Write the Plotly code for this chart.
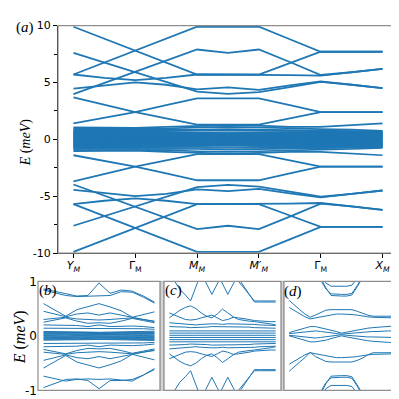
import plotly.graph_objects as go

BLUE = "#1f77b4"
FRAME = "#8e8e8e"
SERIF = "Liberation Serif"
SANS = "DejaVu Sans"

# k-path: Y_M, Gamma_M, M_M, M'_M, Gamma_M, X_M
K = [0, 0.5, 1, 1.5, 2, 2.5, 3, 3.5, 4, 4.5, 5]
K_FINE = [0, 0.25, 0.5, 0.75, 1, 1.25, 1.5, 1.75, 2, 2.25, 2.5,
          2.75, 3, 3.25, 3.5, 3.75, 4, 4.25, 4.5, 4.75, 5]
K_LABELS = ["<i>Y</i><sub><i>M</i></sub>", "Γ<sub>M</sub>", "<i>M</i><sub><i>M</i></sub>",
            "<i>M</i>′<sub><i>M</i></sub>", "Γ<sub>M</sub>", "<i>X</i><sub><i>M</i></sub>"]

# ---- panel (a): full spectrum, meV ----
A_OUTER = [
    [9.9, 8.85, 7.8, 6.75, 5.7, 5.7, 5.7, 6.7, 7.7, 7.7, 7.7],
    [5.7, 6.75, 7.8, 8.85, 9.9, 9.9, 9.9, 8.8, 7.7, 7.7, 7.7],
    [7.6, 6.75, 5.9, 5.05, 4.2, 4.0, 4.15, 4.6, 5.05, 4.8, 4.5],
    [3.97, 4.95, 5.9, 6.9, 7.9, 7.6, 7.9, 6.8, 5.66, 5.9, 6.2],
    [4.45, 4.75, 5.0, 4.8, 4.4, 4.56, 4.35, 4.75, 5.1, 4.8, 4.5],
    [5.7, 5.4, 5.2, 5.4, 5.7, 5.7, 5.7, 5.65, 5.6, 5.9, 6.2],
    [3.7, 3.05, 2.4, 1.85, 1.3, 1.3, 1.3, 1.85, 2.4, 2.4, 2.4],
    [1.4, 1.9, 2.4, 3.0, 3.6, 3.6, 3.6, 3.0, 2.4, 2.4, 2.4],
    [-9.9, -8.85, -7.8, -6.75, -5.7, -5.7, -5.7, -6.7, -7.7, -7.7, -7.7],
    [-5.7, -6.75, -7.8, -8.85, -9.9, -9.9, -9.9, -8.8, -7.7, -7.7, -7.7],
    [-7.6, -6.75, -5.9, -5.05, -4.2, -4.0, -4.15, -4.6, -5.05, -4.8, -4.5],
    [-3.97, -4.95, -5.9, -6.9, -7.9, -7.6, -7.9, -6.8, -5.66, -5.9, -6.2],
    [-4.45, -4.75, -5.0, -4.8, -4.4, -4.56, -4.35, -4.75, -5.1, -4.8, -4.5],
    [-5.7, -5.4, -5.2, -5.4, -5.7, -5.7, -5.7, -5.65, -5.6, -5.9, -6.2],
    [-3.7, -3.05, -2.4, -1.85, -1.3, -1.3, -1.3, -1.85, -2.4, -2.4, -2.4],
    [-1.4, -1.9, -2.4, -3.0, -3.6, -3.6, -3.6, -3.0, -2.4, -2.4, -2.4],
]
A_CENTER = [
    [1.05, 1.05, 1.0, 1.1, 1.2, 1.25, 1.2, 1.1, 1.1, 1.25, 1.4],
    [0.95, 0.95, 0.9, 0.95, 1.05, 1.1, 1.05, 0.95, 0.9, 0.85, 0.75],
    [0.85, 0.85, 0.82, 0.8, 0.85, 0.9, 0.85, 0.8, 0.78, 0.72, 0.68],
    [0.78, 0.77, 0.76, 0.74, 0.72, 0.7, 0.72, 0.74, 0.74, 0.7, 0.66],
    [0.72, 0.72, 0.7, 0.66, 0.6, 0.55, 0.6, 0.66, 0.68, 0.65, 0.6],
    [0.67, 0.66, 0.64, 0.6, 0.56, 0.52, 0.56, 0.6, 0.62, 0.6, 0.56],
    [0.62, 0.6, 0.58, 0.55, 0.5, 0.48, 0.5, 0.52, 0.56, 0.55, 0.52],
    [0.57, 0.55, 0.53, 0.5, 0.46, 0.44, 0.46, 0.48, 0.51, 0.5, 0.48],
    [0.52, 0.5, 0.48, 0.45, 0.42, 0.4, 0.42, 0.44, 0.46, 0.46, 0.45],
    [0.47, 0.45, 0.43, 0.4, 0.38, 0.36, 0.38, 0.4, 0.42, 0.42, 0.41],
    [0.42, 0.4, 0.38, 0.36, 0.33, 0.32, 0.33, 0.35, 0.37, 0.37, 0.37],
    [0.37, 0.35, 0.34, 0.32, 0.29, 0.28, 0.29, 0.31, 0.33, 0.33, 0.33],
    [0.32, 0.3, 0.29, 0.27, 0.25, 0.24, 0.25, 0.26, 0.28, 0.29, 0.3],
    [0.27, 0.26, 0.25, 0.23, 0.21, 0.2, 0.21, 0.22, 0.24, 0.25, 0.26],
    [0.22, 0.21, 0.2, 0.19, 0.17, 0.16, 0.17, 0.18, 0.19, 0.21, 0.22],
    [0.17, 0.16, 0.15, 0.15, 0.13, 0.12, 0.13, 0.14, 0.15, 0.16, 0.18],
    [0.12, 0.11, 0.1, 0.1, 0.09, 0.08, 0.09, 0.1, 0.1, 0.12, 0.14],
    [0.08, 0.07, 0.07, 0.06, 0.06, 0.05, 0.06, 0.06, 0.07, 0.08, 0.1],
    [0.04, 0.03, 0.03, 0.03, 0.02, 0.02, 0.02, 0.03, 0.03, 0.04, 0.06],
    [0.0, 0.0, 0.0, 0.0, 0.0, 0.0, 0.0, 0.0, 0.0, 0.0, 0.0],
    [-0.04, -0.03, -0.03, -0.03, -0.02, -0.02, -0.02, -0.03, -0.03, -0.04, -0.06],
    [-0.08, -0.07, -0.07, -0.06, -0.06, -0.05, -0.06, -0.06, -0.07, -0.08, -0.1],
    [-0.12, -0.11, -0.1, -0.1, -0.09, -0.08, -0.09, -0.1, -0.1, -0.12, -0.14],
    [-0.17, -0.16, -0.15, -0.15, -0.13, -0.12, -0.13, -0.14, -0.15, -0.16, -0.18],
    [-0.22, -0.21, -0.2, -0.19, -0.17, -0.16, -0.17, -0.18, -0.19, -0.21, -0.22],
    [-0.27, -0.26, -0.25, -0.23, -0.21, -0.2, -0.21, -0.22, -0.24, -0.25, -0.26],
    [-0.32, -0.3, -0.29, -0.27, -0.25, -0.24, -0.25, -0.26, -0.28, -0.29, -0.3],
    [-0.37, -0.35, -0.34, -0.32, -0.29, -0.28, -0.29, -0.31, -0.33, -0.33, -0.33],
    [-0.42, -0.4, -0.38, -0.36, -0.33, -0.32, -0.33, -0.35, -0.37, -0.37, -0.37],
    [-0.47, -0.45, -0.43, -0.4, -0.38, -0.36, -0.38, -0.4, -0.42, -0.42, -0.41],
    [-0.52, -0.5, -0.48, -0.45, -0.42, -0.4, -0.42, -0.44, -0.46, -0.46, -0.45],
    [-0.57, -0.55, -0.53, -0.5, -0.46, -0.44, -0.46, -0.48, -0.51, -0.5, -0.48],
    [-0.62, -0.6, -0.58, -0.55, -0.5, -0.48, -0.5, -0.52, -0.56, -0.55, -0.52],
    [-0.67, -0.66, -0.64, -0.6, -0.56, -0.52, -0.56, -0.6, -0.62, -0.6, -0.56],
    [-0.72, -0.72, -0.7, -0.66, -0.6, -0.55, -0.6, -0.66, -0.68, -0.65, -0.6],
    [-0.78, -0.77, -0.76, -0.74, -0.72, -0.7, -0.72, -0.74, -0.74, -0.7, -0.66],
    [-0.85, -0.85, -0.82, -0.8, -0.85, -0.9, -0.85, -0.8, -0.78, -0.72, -0.68],
    [-0.95, -0.95, -0.9, -0.95, -1.05, -1.1, -1.05, -0.95, -0.9, -0.85, -0.75],
    [-1.05, -1.05, -1.0, -1.1, -1.2, -1.25, -1.2, -1.1, -1.1, -1.25, -1.4],
]

# ---- panel (b) ----
B_BANDS = [
    [0.86, 0.82, 0.78, 0.73, 0.74, 0.97, 0.78, 0.84, 0.82, 0.73, 0.62],
    [0.84, 0.79, 0.74, 0.72, 0.73, 0.74, 0.74, 0.81, 0.8, 0.71, 0.6],
    [0.59, 0.47, 0.36, 0.48, 0.53, 0.59, 0.53, 0.46, 0.34, 0.39, 0.44],
    [0.45, 0.4, 0.35, 0.4, 0.42, 0.38, 0.42, 0.38, 0.34, 0.3, 0.26],
    [0.3, 0.32, 0.34, 0.31, 0.3, 0.29, 0.3, 0.31, 0.33, 0.3, 0.27],
    [0.25, 0.29, 0.33, 0.27, 0.23, 0.24, 0.23, 0.27, 0.32, 0.28, 0.24],
    [0.2, 0.2, 0.2, 0.19, 0.17, 0.2, 0.17, 0.18, 0.18, 0.17, 0.15],
    [0.14, 0.14, 0.13, 0.14, 0.14, 0.13, 0.14, 0.14, 0.13, 0.13, 0.12],
    [0.08, 0.08, 0.075, 0.08, 0.07, 0.065, 0.07, 0.075, 0.08, 0.08, 0.085],
    [0.065, 0.062, 0.06, 0.065, 0.058, 0.052, 0.058, 0.062, 0.066, 0.066, 0.07],
    [0.055, 0.05, 0.05, 0.055, 0.045, 0.04, 0.045, 0.05, 0.055, 0.055, 0.06],
    [0.04, 0.038, 0.036, 0.042, 0.032, 0.03, 0.032, 0.036, 0.042, 0.042, 0.045],
    [0.03, 0.028, 0.025, 0.03, 0.02, 0.02, 0.02, 0.025, 0.03, 0.03, 0.03],
    [0.015, 0.014, 0.012, 0.016, 0.01, 0.008, 0.01, 0.012, 0.016, 0.016, 0.015],
    [0.005, 0.0, 0.0, 0.005, 0.0, -0.005, 0.0, 0.0, 0.005, 0.005, 0.0],
    [-0.015, -0.014, -0.012, -0.016, -0.01, -0.008, -0.01, -0.012, -0.016, -0.016, -0.015],
    [-0.03, -0.028, -0.025, -0.03, -0.02, -0.02, -0.02, -0.025, -0.03, -0.03, -0.03],
    [-0.04, -0.038, -0.036, -0.042, -0.032, -0.03, -0.032, -0.036, -0.042, -0.042, -0.045],
    [-0.055, -0.05, -0.05, -0.055, -0.045, -0.04, -0.045, -0.05, -0.055, -0.055, -0.06],
    [-0.065, -0.062, -0.06, -0.065, -0.058, -0.052, -0.058, -0.062, -0.066, -0.066, -0.07],
    [-0.08, -0.08, -0.075, -0.08, -0.07, -0.065, -0.07, -0.075, -0.08, -0.08, -0.085],
    [-0.14, -0.14, -0.13, -0.14, -0.14, -0.13, -0.14, -0.14, -0.13, -0.13, -0.12],
    [-0.2, -0.2, -0.2, -0.19, -0.17, -0.2, -0.17, -0.18, -0.18, -0.17, -0.15],
    [-0.25, -0.29, -0.33, -0.27, -0.23, -0.24, -0.23, -0.27, -0.32, -0.28, -0.24],
    [-0.3, -0.32, -0.34, -0.31, -0.3, -0.29, -0.3, -0.31, -0.33, -0.3, -0.27],
    [-0.45, -0.4, -0.35, -0.4, -0.42, -0.38, -0.42, -0.38, -0.34, -0.3, -0.26],
    [-0.59, -0.47, -0.36, -0.48, -0.53, -0.59, -0.53, -0.46, -0.34, -0.39, -0.44],
    [-0.74, -0.78, -0.83, -0.8, -0.79, -0.8, -0.79, -0.81, -0.83, -0.72, -0.6],
    [-0.95, -0.88, -0.8, -0.79, -0.82, -0.97, -0.82, -0.82, -0.8, -0.72, -0.62],
]

# ---- panel (c) ----
C_BANDS = [
    [1.15, 1.0, 0.85, 0.75, 0.64, 0.9, 1.15, 1.3, 1.3, 1.3, 1.3, 1.3, 1.3, 1.3, 1.3, 1.3, 1.3, 1.3, 1.3, 1.3, 1.3],
    [1.3, 1.3, 1.3, 1.3, 1.3, 1.3, 1.15, 0.95, 0.76, 0.95, 1.15, 1.3, 1.3, 1.3, 1.3, 1.3, 1.3, 1.3, 1.3, 1.3, 1.3],
    [1.3, 1.3, 1.3, 1.3, 1.3, 1.3, 1.3, 1.3, 1.3, 1.15, 0.95, 0.76, 0.95, 1.15, 1.3, 1.3, 1.3, 1.3, 1.3, 1.3, 1.3],
    [1.3, 1.3, 1.3, 1.3, 1.3, 1.3, 1.3, 1.3, 1.3, 1.3, 1.3, 1.3, 1.15, 1.0, 0.88, 0.76, 0.64, 0.64, 0.64, 0.64, 0.64],
    [1.3, 1.3, 1.3, 1.3, 1.3, 1.3, 1.3, 1.3, 1.3, 1.3, 1.3, 1.3, 1.2, 1.05, 0.9, 0.76, 0.62, 0.62, 0.62, 0.62, 0.62],
    [0.33, 0.4, 0.47, 0.52, 0.55, 0.5, 0.42, 0.36, 0.33, 0.4, 0.49, 0.42, 0.35, 0.3, 0.28, 0.27, 0.26, 0.25, 0.24, 0.22, 0.2],
    [0.42, 0.38, 0.33, 0.3, 0.29, 0.3, 0.33, 0.36, 0.38, 0.33, 0.28, 0.3, 0.34, 0.33, 0.32, 0.3, 0.28, 0.27, 0.26, 0.26, 0.26],
    [0.24, 0.23, 0.22, 0.21, 0.2, 0.2, 0.21, 0.22, 0.22, 0.22, 0.21, 0.22, 0.22, 0.22, 0.22, 0.21, 0.21, 0.2, 0.2, 0.19, 0.19],
    [0.17, 0.17, 0.16, 0.16, 0.15, 0.15, 0.16, 0.16, 0.17, 0.17, 0.16, 0.16, 0.16, 0.16, 0.16, 0.16, 0.15, 0.15, 0.15, 0.14, 0.14],
    [0.09, 0.09, 0.09, 0.09, 0.09, 0.09, 0.09, 0.09, 0.09, 0.09, 0.09, 0.09, 0.09, 0.09, 0.09, 0.09, 0.09, 0.09, 0.09, 0.09, 0.09],
    [0.05, 0.05, 0.05, 0.05, 0.05, 0.05, 0.05, 0.05, 0.05, 0.05, 0.05, 0.05, 0.05, 0.05, 0.05, 0.05, 0.05, 0.05, 0.05, 0.05, 0.05],
    [0.01, 0.01, 0.01, 0.01, 0.01, 0.01, 0.01, 0.01, 0.01, 0.01, 0.01, 0.01, 0.01, 0.01, 0.01, 0.01, 0.01, 0.01, 0.01, 0.01, 0.01],
    [-0.03, -0.03, -0.03, -0.03, -0.03, -0.03, -0.03, -0.03, -0.03, -0.03, -0.03, -0.03, -0.03, -0.03, -0.03, -0.03, -0.03, -0.03, -0.03, -0.03, -0.03],
    [-0.07, -0.07, -0.07, -0.07, -0.07, -0.07, -0.07, -0.07, -0.07, -0.07, -0.07, -0.07, -0.07, -0.07, -0.07, -0.07, -0.07, -0.07, -0.07, -0.07, -0.07],
    [-0.11, -0.11, -0.11, -0.11, -0.11, -0.11, -0.11, -0.11, -0.11, -0.11, -0.11, -0.11, -0.11, -0.11, -0.11, -0.11, -0.11, -0.11, -0.11, -0.11, -0.11],
    [-0.17, -0.17, -0.16, -0.16, -0.15, -0.15, -0.16, -0.16, -0.17, -0.17, -0.16, -0.16, -0.16, -0.16, -0.16, -0.16, -0.15, -0.15, -0.15, -0.14, -0.14],
    [-0.24, -0.23, -0.22, -0.21, -0.2, -0.2, -0.21, -0.22, -0.22, -0.22, -0.21, -0.22, -0.22, -0.22, -0.22, -0.21, -0.21, -0.2, -0.2, -0.19, -0.19],
    [-0.42, -0.38, -0.33, -0.3, -0.29, -0.3, -0.33, -0.36, -0.38, -0.33, -0.28, -0.3, -0.34, -0.33, -0.32, -0.3, -0.28, -0.27, -0.26, -0.26, -0.26],
    [-0.33, -0.4, -0.47, -0.52, -0.55, -0.5, -0.42, -0.36, -0.33, -0.4, -0.49, -0.42, -0.35, -0.3, -0.28, -0.27, -0.26, -0.25, -0.24, -0.22, -0.2],
    [-1.3, -1.3, -1.3, -1.3, -1.3, -1.3, -1.3, -1.3, -1.3, -1.3, -1.3, -1.3, -1.2, -1.05, -0.9, -0.76, -0.62, -0.62, -0.62, -0.62, -0.62],
    [-1.3, -1.3, -1.3, -1.3, -1.3, -1.3, -1.3, -1.3, -1.3, -1.3, -1.3, -1.3, -1.15, -1.0, -0.88, -0.76, -0.64, -0.64, -0.64, -0.64, -0.64],
    [-1.3, -1.3, -1.3, -1.3, -1.3, -1.3, -1.3, -1.3, -1.3, -1.15, -0.95, -0.76, -0.95, -1.15, -1.3, -1.3, -1.3, -1.3, -1.3, -1.3, -1.3],
    [-1.3, -1.3, -1.3, -1.3, -1.3, -1.3, -1.15, -0.95, -0.76, -0.95, -1.15, -1.3, -1.3, -1.3, -1.3, -1.3, -1.3, -1.3, -1.3, -1.3, -1.3],
    [-1.15, -1.0, -0.85, -0.75, -0.64, -0.9, -1.15, -1.3, -1.3, -1.3, -1.3, -1.3, -1.3, -1.3, -1.3, -1.3, -1.3, -1.3, -1.3, -1.3, -1.3],
]

# ---- panel (d) ----
D_BANDS = [
    [1.3, 1.3, 1.3, 1.3, 1.3, 1.2, 1.02, 0.86, 0.77, 0.76, 0.76, 0.76, 0.78, 0.92, 1.08, 1.25, 1.3, 1.3, 1.3, 1.3, 1.3],
    [1.3, 1.3, 1.3, 1.3, 1.3, 1.25, 1.05, 0.88, 0.74, 0.73, 0.73, 0.73, 0.75, 0.9, 1.05, 1.22, 1.3, 1.3, 1.3, 1.3, 1.3],
    [1.3, 1.3, 1.3, 1.3, 1.3, 1.3, 1.2, 0.97, 0.91, 0.91, 0.91, 0.91, 0.93, 1.05, 1.2, 1.3, 1.3, 1.3, 1.3, 1.3, 1.3],
    [0.65, 0.56, 0.48, 0.4, 0.34, 0.38, 0.43, 0.47, 0.48, 0.48, 0.48, 0.48, 0.48, 0.45, 0.41, 0.38, 0.36, 0.36, 0.36, 0.36, 0.36],
    [0.52, 0.46, 0.4, 0.35, 0.31, 0.33, 0.35, 0.37, 0.39, 0.4, 0.4, 0.4, 0.39, 0.38, 0.36, 0.35, 0.34, 0.34, 0.34, 0.34, 0.33],
    [0.06, 0.09, 0.12, 0.15, 0.17, 0.17, 0.15, 0.13, 0.11, 0.08, 0.05, 0.07, 0.09, 0.11, 0.13, 0.14, 0.15, 0.16, 0.17, 0.18, 0.18],
    [0.04, 0.05, 0.07, 0.08, 0.09, 0.09, 0.08, 0.07, 0.06, 0.05, 0.03, 0.04, 0.05, 0.06, 0.07, 0.07, 0.08, 0.08, 0.09, 0.09, 0.09],
    [0.01, 0.0, -0.02, -0.03, -0.04, -0.04, -0.03, -0.02, -0.01, 0.0, 0.02, 0.01, 0.0, -0.01, -0.01, -0.02, -0.02, -0.02, -0.03, -0.03, -0.03],
    [0.0, -0.03, -0.06, -0.09, -0.11, -0.11, -0.1, -0.08, -0.05, -0.02, 0.0, -0.02, -0.04, -0.06, -0.08, -0.09, -0.1, -0.11, -0.11, -0.12, -0.12],
    [-0.52, -0.46, -0.4, -0.35, -0.31, -0.33, -0.35, -0.37, -0.39, -0.4, -0.4, -0.4, -0.39, -0.38, -0.36, -0.35, -0.34, -0.34, -0.34, -0.34, -0.33],
    [-0.65, -0.56, -0.48, -0.4, -0.3, -0.38, -0.43, -0.47, -0.48, -0.48, -0.48, -0.48, -0.48, -0.45, -0.41, -0.35, -0.31, -0.31, -0.31, -0.31, -0.31],
    [-1.3, -1.3, -1.3, -1.3, -1.3, -1.3, -1.2, -0.97, -0.91, -0.91, -0.91, -0.91, -0.93, -1.05, -1.2, -1.3, -1.3, -1.3, -1.3, -1.3, -1.3],
    [-1.3, -1.3, -1.3, -1.3, -1.3, -1.25, -1.05, -0.88, -0.74, -0.73, -0.73, -0.73, -0.75, -0.9, -1.05, -1.22, -1.3, -1.3, -1.3, -1.3, -1.3],
    [-1.3, -1.3, -1.3, -1.3, -1.3, -1.2, -1.02, -0.86, -0.77, -0.76, -0.76, -0.76, -0.78, -0.92, -1.08, -1.25, -1.3, -1.3, -1.3, -1.3, -1.3],
]


def add_bands(fig, k, bands, xa, ya, width):
    for e in bands:
        fig.add_trace(go.Scatter(x=k, y=e, mode="lines", xaxis=xa, yaxis=ya,
                                 line=dict(color=BLUE, width=width),
                                 showlegend=False, hoverinfo="skip"))


fig = go.Figure()
add_bands(fig, K, A_CENTER, "x", "y", 1.7)
add_bands(fig, K, A_OUTER, "x", "y", 1.8)
add_bands(fig, K, B_BANDS, "x2", "y2", 1.0)
add_bands(fig, K_FINE, C_BANDS, "x3", "y3", 1.0)
add_bands(fig, K_FINE, D_BANDS, "x4", "y4", 1.0)

W = 399.0
px = lambda v: v / W
py = lambda v: 1 - v / W

small_x = dict(range=[-0.25, 5.25], showgrid=False, zeroline=False, showticklabels=False,
               ticks="", showline=False)
small_y = dict(range=[-1, 1], showgrid=False, zeroline=False, showline=False,
               domain=[py(389), py(276)])

fig.update_layout(
    width=399, height=399,
    margin=dict(l=0, r=0, t=0, b=0),
    paper_bgcolor="white", plot_bgcolor="white",
    font=dict(family=SANS, size=10, color="black"),
    xaxis=dict(domain=[px(50), px(390)], anchor="y", range=[-0.25, 5.25],
               tickvals=[0, 1, 2, 3, 4, 5], ticktext=K_LABELS,
               ticks="outside", ticklen=4, tickcolor="black",
               ticklabelstandoff=-2,
               tickfont=dict(family=SANS, size=11),
               showline=True, linecolor="black", linewidth=1,
               showgrid=False, zeroline=False),
    yaxis=dict(domain=[py(246.7), py(11)], anchor="x", range=[-10, 10],
               tickvals=[-10, -5, 0, 5, 10], ticktext=["-10", "-5", "0", "5", "10"],
               ticks="outside", ticklen=4, tickcolor="black",
               minor=dict(tickvals=[-7.5, -2.5, 2.5, 7.5], ticks="outside",
                          ticklen=3, tickcolor="black", showgrid=False),
               tickfont=dict(family=SANS, size=11),
               showline=True, linecolor="black", linewidth=1,
               showgrid=False, zeroline=False),
    xaxis2=dict(domain=[px(30), px(152)], anchor="y2", **small_x),
    yaxis2=dict(anchor="x2", tickvals=[-1, 0, 1], ticktext=["-1", "0", "1"],
                ticks="", tickfont=dict(family=SANS, size=12), **small_y),
    xaxis3=dict(domain=[px(156), px(273)], anchor="y3", **small_x),
    yaxis3=dict(anchor="x3", showticklabels=False, ticks="", **small_y),
    xaxis4=dict(domain=[px(276), px(391)], anchor="y4", **small_x),
    yaxis4=dict(anchor="x4", showticklabels=False, ticks="", **small_y),
)

shapes = [
    dict(type="rect", xref="x domain", yref="y domain", x0=0, x1=1, y0=0, y1=1,
         line=dict(color=FRAME, width=1.2), layer="above"),
    # separators between the lower panels
    dict(type="rect", xref="paper", yref="paper", x0=px(152.3), x1=px(155.7),
         y0=py(389), y1=py(276), fillcolor="#d4d4d4", line=dict(color="#a0a0a0", width=0.6)),
    dict(type="rect", xref="paper", yref="paper", x0=px(273.3), x1=px(275.7),
         y0=py(389), y1=py(276), fillcolor="#d4d4d4", line=dict(color="#a0a0a0", width=0.6)),
]
for n in ("2", "3", "4"):
    shapes.append(dict(type="rect", xref=f"x{n} domain", yref=f"y{n} domain",
                       x0=0, x1=1, y0=0, y1=1, line=dict(color=FRAME, width=1.2),
                       layer="above"))
fig.update_layout(shapes=shapes)

ann = [
    dict(text="(<i>a</i>)", x=px(17), y=py(13), size=15),
    dict(text="(<i>b</i>)", x=px(40), y=py(286), size=15),
    dict(text="(<i>c</i>)", x=px(165), y=py(286), size=15),
    dict(text="(<i>d</i>)", x=px(285), y=py(287), size=15),
]
for a in ann:
    fig.add_annotation(text=a["text"], x=a["x"], y=a["y"], xref="paper", yref="paper",
                       xanchor="center", yanchor="middle", showarrow=False,
                       font=dict(family=SERIF, size=a["size"], color="black"))
fig.add_annotation(text="<i>E</i> (<i>meV</i>)", x=px(18), y=py(132), xref="paper",
                   yref="paper", textangle=-90, showarrow=False,
                   xanchor="center", yanchor="middle",
                   font=dict(family=SERIF, size=14, color="black"))
fig.add_annotation(text="<i>E</i> (<i>meV</i>)", x=px(12), y=py(334), xref="paper",
                   yref="paper", textangle=-90, showarrow=False,
                   xanchor="center", yanchor="middle",
                   font=dict(family=SERIF, size=16, color="black"))

fig.write_html("out.html")
